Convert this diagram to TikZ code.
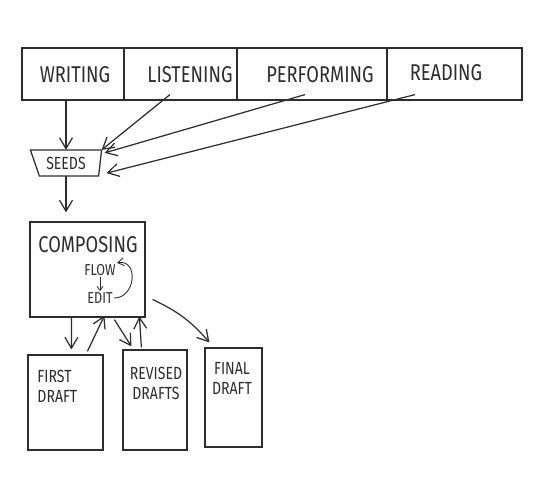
\documentclass[tikz,border=0pt]{standalone}
\usepackage{fontspec}
\setmainfont{Fira Sans}[FakeStretch=0.8]
\usetikzlibrary{arrows.meta,calc}
\definecolor{pen}{RGB}{45,45,45}
\definecolor{paper}{RGB}{255,255,255}

\begin{document}
\begin{tikzpicture}[x=0.02cm,y=-0.02cm,line width=0.7pt,draw=pen,
    >={Straight Barb[length=2.2mm,width=2.6mm]},
    cell/.style={draw=pen,minimum height=1.04cm,inner sep=0pt},
    box/.style={draw=pen,inner sep=0pt},
    hand/.style={text=pen,font=\fontsize{13}{14}\selectfont},
    small/.style={text=pen,font=\fontsize{10}{11.5}\selectfont,align=center},
    tiny/.style={text=pen,font=\fontsize{9}{10}\selectfont,inner sep=0.5pt}]
  \useasboundingbox[fill=paper] (0,0) rectangle (540,486);
  % top row of sources
  \node[cell,minimum width=2.04cm] (writing) at (73,74) {};
  \node[cell,minimum width=2.26cm] (listening) at (180.5,74) {};
  \node[cell,minimum width=3cm] (performing) at (312,74) {};
  \node[cell,minimum width=2.7cm] (reading) at (454.5,74) {};
  \node[hand] (writingT) at (75,75) {WRITING};
  \node[hand] (listeningT) at (190,75) {LISTENING};
  \node[hand] (performingT) at (320,75) {PERFORMING};
  \node[hand] (readingT) at (446,73) {READING};
  % seeds
  \node[small,minimum width=1.4cm,minimum height=0.5cm,inner sep=0pt]
    (seeds) at (66,163) {SEEDS};
  \draw (seeds.north west) -- (seeds.north east)
    -- ($(seeds.south east)+(-3,0)$) -- ($(seeds.south west)+(9,0)$) -- cycle;
  \draw[->] (writing.south -| seeds.north) -- (seeds.north);
  \draw[->] ($(listeningT.south)+(-20,5)$) -- (seeds.north east);
  \draw[->] ($(performingT.south)+(-15,5)$) -- ($(seeds.north east)+(3,3)$);
  \draw[->] ($(readingT.south)+(-31,7)$) -- ($(seeds.south east)+(5,-3)$);
  % composing
  \node[box,minimum width=2.3cm,minimum height=1.9cm] (comp) at (87.5,269.5) {};
  \node[hand] (compT) at (88,245) {COMPOSING};
  \node[tiny] (flow) at (100,270) {FLOW};
  \node[tiny] (edit) at (100,298) {EDIT};
  \draw[->] (seeds.south) -- ($(comp.north -| seeds.south)+(0,-9)$);
  \draw[->,line width=0.5pt,>={Straight Barb[length=0.8mm,width=1.2mm]}]
    (flow.south) -- (edit.north);
  \draw[->,line width=0.5pt,>={Straight Barb[length=1.2mm,width=1.6mm]}]
    (edit.east) to[out=0,in=10,looseness=1.6] (flow.north east);
  % drafts
  \node[box,minimum width=1.5cm,minimum height=1.9cm] (first) at (65.5,402.5) {};
  \node[box,minimum width=1.28cm,minimum height=2cm] (revised) at (155,400) {};
  \node[box,minimum width=1.14cm,minimum height=1.98cm] (final) at (233.5,397.5) {};
  \node[small,align=left,anchor=north west] (firstT) at (31,364) {FIRST\\DRAFT};
  \node[small,anchor=north] (revisedT) at (156,361) {REVISED\\DRAFTS};
  \node[small,anchor=north] (finalT) at (232,356) {FINAL\\DRAFT};
  \draw[->] ($(comp.south west)+(42,0)$) -- ($(first.north west)+(44,-5)$);
  \draw[->] ($(first.north west)+(60,-3)$) -- ($(comp.south west)+(75,-2)$);
  \draw[->] ($(comp.south west)+(85,2)$) -- ($(revised.north west)+(9,-3)$);
  \draw[->] ($(revised.north west)+(19,-2)$) -- ($(comp.south west)+(110,-1)$);
  \draw[->] ($(comp.east)+(7,30)$) to[bend left=12] ($(final.north west)+(5,-5)$);
\end{tikzpicture}
\end{document}
